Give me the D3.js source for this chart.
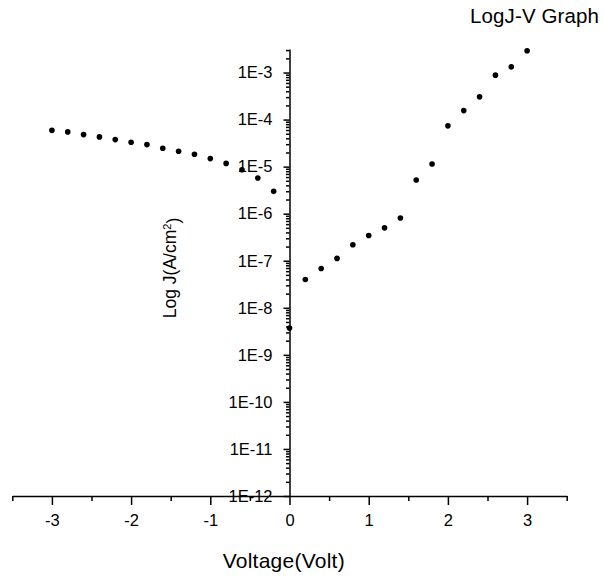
<!DOCTYPE html>
<html>
<head>
<meta charset="utf-8">
<script src="https://cdn.jsdelivr.net/npm/d3@7"></script>
<style>
  body { margin: 0; background: #fff; }
  text { font-family: "Liberation Sans", Arial, sans-serif; fill: #000; }
</style>
</head>
<body>
<div id="chart"></div>
<script>
// voltage (V) and current density J (A/cm^2)
const voltage = [-3.0, -2.8, -2.6, -2.4, -2.2, -2.0, -1.8, -1.6, -1.4, -1.2, -1.0, -0.8, -0.6, -0.4, -0.2,
    0.0,
    0.2, 0.4, 0.6, 0.8, 1.0, 1.2, 1.4, 1.6, 1.8, 2.0, 2.2, 2.4, 2.6, 2.8, 3.0];
const currentDensity = [5.9e-5, 5.47e-5, 4.8e-5, 4.28e-5, 3.75e-5, 3.29e-5, 2.94e-5, 2.45e-5, 2.12e-5, 1.83e-5, 1.48e-5, 1.17e-5, 8.6e-6, 5.75e-6, 2.98e-6,
    3.7e-9,
    4.0e-8, 6.85e-8, 1.12e-7, 2.19e-7, 3.45e-7, 5.0e-7, 8.1e-7, 5.2e-6, 1.14e-5, 7.35e-5, 1.55e-4, 3.04e-4, 8.8e-4, 1.32e-3, 2.9e-3];

const xTicks = [-3, -2, -1, 0, 1, 2, 3];
const xTickLabels = ["-3", "-2", "-1", "0", "1", "2", "3"];
const xMinorTicks = [-3.5, -2.5, -1.5, -0.5, 0.5, 1.5, 2.5, 3.5];
const yTicks = [1e-12, 1e-11, 1e-10, 1e-9, 1e-8, 1e-7, 1e-6, 1e-5, 1e-4, 1e-3];
const yTickLabels = ["1E-12", "1E-11", "1E-10", "1E-9", "1E-8", "1E-7", "1E-6", "1E-5", "1E-4", "1E-3"];

const data = voltage.map((v, i) => ({ v: v, j: currentDensity[i] }));

const width = 605, height = 580;

const svg = d3.select("#chart")
    .append("svg")
    .attr("width", width)
    .attr("height", height);

const x = d3.scaleLinear()
    .domain([-3.5, 3.5])
    .range([12.3, 566.7]);

const y = d3.scaleLog()
    .domain([1e-12, Math.pow(10, -2.5)])
    .range([496, 49]);

// minor log ticks 2..9 per decade
let yMinor = [];
yTicks.forEach(d => {
    for (let k = 2; k <= 9; k++) {
        let t = d * k;
        if (t <= y.domain()[1]) yMinor.push(t);
    }
});

// x axis
svg.append("g")
    .attr("transform", "translate(0," + y(1e-12) + ")")
    .call(d3.axisBottom(x).tickValues(xMinorTicks).tickSize(5).tickFormat(""))
    .call(g => g.select(".domain").remove());

const xAxis = svg.append("g")
    .attr("transform", "translate(0," + y(1e-12) + ")")
    .call(d3.axisBottom(x).tickValues(xTicks).tickSize(9).tickSizeOuter(0).tickPadding(9)
        .tickFormat((d, i) => xTickLabels[i]));
xAxis.selectAll("text").style("font-size", "16.5px");

// y axis
svg.append("g")
    .attr("transform", "translate(" + x(0) + ",0)")
    .call(d3.axisLeft(y).tickValues(yMinor).tickSize(3.5).tickFormat(""))
    .call(g => g.select(".domain").remove());

const yAxis = svg.append("g")
    .attr("transform", "translate(" + x(0) + ",0)")
    .call(d3.axisLeft(y).tickValues(yTicks).tickSize(6).tickSizeOuter(0).tickPadding(11)
        .tickFormat((d, i) => yTickLabels[i]));
yAxis.selectAll("text").style("font-size", "16.5px");

svg.selectAll(".domain, .tick line")
    .attr("stroke", "#000")
    .attr("stroke-width", 1.5);

// points
svg.append("g")
    .selectAll("circle")
    .data(data)
    .enter()
    .append("circle")
    .attr("cx", d => x(d.v))
    .attr("cy", d => y(d.j))
    .attr("r", 2.8)
    .attr("fill", "#000");

// titles
svg.append("text")
    .attr("x", 470)
    .attr("y", 23)
    .attr("textLength", 129)
    .attr("lengthAdjust", "spacing")
    .style("font-size", "20.5px")
    .text("LogJ-V Graph");

svg.append("text")
    .attr("x", 222.7)
    .attr("y", 568)
    .attr("textLength", 122)
    .attr("lengthAdjust", "spacing")
    .style("font-size", "21px")
    .text("Voltage(Volt)");

const yLabel = svg.append("text")
    .attr("transform", "translate(176,268) rotate(-90)")
    .attr("text-anchor", "middle")
    .style("font-size", "17.5px");
yLabel.append("tspan").text("Log J(A/cm");
yLabel.append("tspan").attr("dy", "-0.5em").style("font-size", "11px").text("2");
yLabel.append("tspan").attr("dy", "0.5em").text(")");
</script>
</body>
</html>
